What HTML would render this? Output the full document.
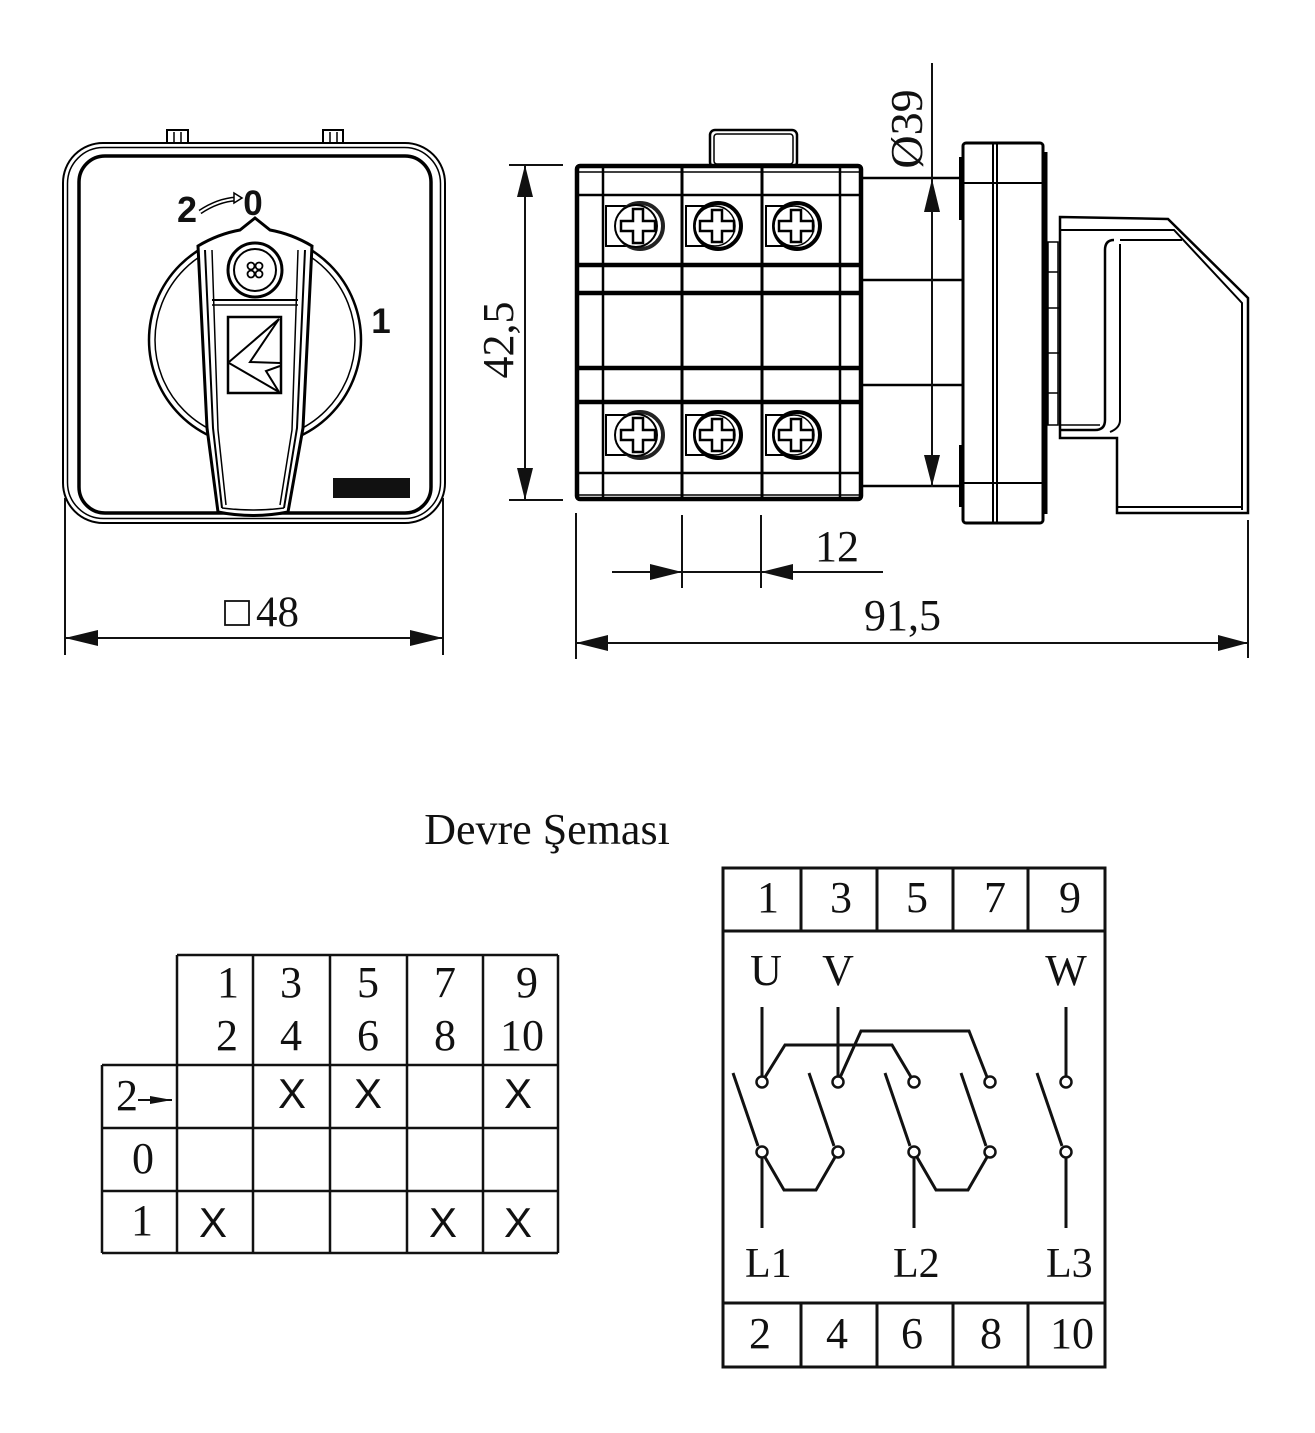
<!DOCTYPE html>
<html>
<head>
<meta charset="utf-8">
<style>
html,body{margin:0;padding:0;background:#fff;}
svg{display:block;}
text{font-family:"Liberation Serif",serif;fill:#111;}
.sans{font-family:"Liberation Sans",sans-serif;}
</style>
</head>
<body>
<svg width="1315" height="1433" viewBox="0 0 1315 1433" xmlns="http://www.w3.org/2000/svg">
<rect width="1315" height="1433" fill="#fff"/>

<!-- ================= FRONT VIEW ================= -->
<g fill="none" stroke="#000">
  <rect x="167" y="130" width="21" height="14" stroke-width="2" fill="#fff"/>
  <line x1="174" y1="132" x2="174" y2="143" stroke-width="1.5"/>
  <line x1="181" y1="132" x2="181" y2="143" stroke-width="1.5"/>
  <rect x="323" y="130" width="20" height="14" stroke-width="2" fill="#fff"/>
  <line x1="330" y1="132" x2="330" y2="143" stroke-width="1.5"/>
  <line x1="337" y1="132" x2="337" y2="143" stroke-width="1.5"/>
  <rect x="63" y="143" width="382" height="380" rx="40" stroke-width="2" fill="#fff"/>
  <rect x="67.5" y="147.5" width="373" height="371" rx="36" stroke-width="1.5"/>
  <rect x="79" y="156" width="352" height="357" rx="26" stroke-width="3.5"/>
  <circle cx="255" cy="340" r="106" stroke-width="2.5"/>
  <circle cx="255" cy="340" r="100" stroke-width="1.5"/>
  <path d="M218,512 L207,428 L198,246 Q218,234 240,230 L255,218 L270,230 Q292,234 312,246 L303,428 L288,512 Q253,519 218,512 Z" fill="#fff" stroke-width="3"/>
  <path d="M205,250 L213,428 L222,508" stroke-width="2"/>
  <path d="M212,250 L218,430 L226,505" stroke-width="1.5"/>
  <path d="M305,250 L297,428 L284,508" stroke-width="2"/>
  <path d="M298,250 L292,430 L280,505" stroke-width="1.5"/>
  <path d="M222,508 Q253,512 284,508" stroke-width="1.5"/>
  <circle cx="255" cy="270" r="27" stroke-width="3" fill="#fff"/>
  <circle cx="255" cy="270" r="21" stroke-width="2"/>
  <circle cx="251" cy="266" r="3.5" stroke-width="1.8"/>
  <circle cx="259" cy="266" r="3.5" stroke-width="1.8"/>
  <circle cx="251" cy="274" r="3.5" stroke-width="1.8"/>
  <circle cx="259" cy="274" r="3.5" stroke-width="1.8"/>
  <line x1="212" y1="300" x2="298" y2="300" stroke-width="2"/>
  <line x1="212" y1="305" x2="298" y2="305" stroke-width="1.5"/>
  <rect x="228" y="317" width="53" height="76" stroke-width="2.5"/>
  <path d="M229,362 L279,319 L250,362 L280,363" stroke-width="2"/>
  <path d="M229,363 L279,392 L266,371 L280,366" stroke-width="2"/>
</g>
<rect x="333" y="478" width="77" height="20" fill="#111"/>
<text class="sans" x="187" y="222" font-size="36" font-weight="bold" text-anchor="middle">2</text>
<text class="sans" x="253" y="215" font-size="35" font-weight="bold" text-anchor="middle">0</text>
<text class="sans" x="381" y="333" font-size="35" font-weight="bold" text-anchor="middle">1</text>
<path d="M200,212 Q218,200 236,199" fill="none" stroke="#000" stroke-width="5"/>
<path d="M200,212 Q218,200 236,199" fill="none" stroke="#fff" stroke-width="2"/>
<polygon points="234,193 242,198 234,203" fill="#fff" stroke="#000" stroke-width="1.5"/>

<g stroke="#111" fill="none" stroke-width="2">
  <line x1="65" y1="498" x2="65" y2="655"/>
  <line x1="443" y1="498" x2="443" y2="655"/>
  <line x1="65" y1="638" x2="443" y2="638"/>
</g>
<polygon points="65,638 98,630 98,646" fill="#111"/>
<polygon points="443,638 410,630 410,646" fill="#111"/>
<rect x="225" y="601" width="24" height="24" fill="none" stroke="#111" stroke-width="1.8"/>
<text x="256" y="626" font-size="43">48</text>

<!-- ================= SIDE VIEW ================= -->
<g fill="none" stroke="#000">
  <rect x="710" y="130" width="87" height="37" rx="5" stroke-width="2.5" fill="#fff"/>
  <rect x="714" y="134" width="79" height="30" rx="3" stroke-width="1.5"/>
  <rect x="577" y="166" width="284" height="333" rx="3" stroke-width="4.5" fill="#fff"/>
  <line x1="577" y1="172" x2="861" y2="172" stroke-width="1.5"/>
  <line x1="577" y1="195" x2="861" y2="195" stroke-width="2.5"/>
  <line x1="577" y1="265" x2="861" y2="265" stroke-width="4.5"/>
  <line x1="577" y1="293" x2="861" y2="293" stroke-width="4.5"/>
  <line x1="577" y1="368" x2="861" y2="368" stroke-width="4.5"/>
  <line x1="577" y1="402" x2="861" y2="402" stroke-width="4.5"/>
  <line x1="577" y1="473" x2="861" y2="473" stroke-width="2.5"/>
  <line x1="577" y1="495" x2="861" y2="495" stroke-width="1.5"/>
  <line x1="603" y1="166" x2="603" y2="499" stroke-width="2.5"/>
  <line x1="682" y1="166" x2="682" y2="499" stroke-width="3"/>
  <line x1="762" y1="166" x2="762" y2="499" stroke-width="3"/>
  <line x1="840" y1="166" x2="840" y2="499" stroke-width="2.5"/>
</g>
<g fill="#fff" stroke="#000">
  <rect x="606" y="206" width="32" height="40" stroke-width="2"/>
  <circle cx="640" cy="226" r="23" stroke-width="4" stroke="#222"/>
  <circle cx="636" cy="226" r="21" stroke-width="2"/>
  <path d="M633,209 h10 v12 h12 v10 h-12 v12 h-10 v-12 h-12 v-10 h12 z" stroke-width="2.5"/>
  <rect x="686" y="206" width="31" height="40" stroke-width="2"/>
  <circle cx="718" cy="226" r="23" stroke-width="4"/>
  <circle cx="715" cy="226" r="20" stroke-width="1.5"/>
  <path d="M712,210 h10 v11 h12 v10 h-12 v11 h-10 v-11 h-12 v-10 h12 z" stroke-width="2.5"/>
  <rect x="766" y="206" width="31" height="40" stroke-width="2"/>
  <circle cx="797" cy="226" r="23" stroke-width="4"/>
  <circle cx="794" cy="226" r="20" stroke-width="1.5"/>
  <path d="M791,210 h10 v11 h12 v10 h-12 v11 h-10 v-11 h-12 v-10 h12 z" stroke-width="2.5"/>
  <rect x="606" y="415" width="32" height="40" stroke-width="2"/>
  <circle cx="640" cy="435" r="23" stroke-width="4" stroke="#222"/>
  <circle cx="636" cy="435" r="21" stroke-width="2"/>
  <path d="M633,418 h10 v12 h12 v10 h-12 v12 h-10 v-12 h-12 v-10 h12 z" stroke-width="2.5"/>
  <rect x="686" y="415" width="31" height="40" stroke-width="2"/>
  <circle cx="718" cy="435" r="23" stroke-width="4"/>
  <circle cx="715" cy="435" r="20" stroke-width="1.5"/>
  <path d="M712,419 h10 v11 h12 v10 h-12 v11 h-10 v-11 h-12 v-10 h12 z" stroke-width="2.5"/>
  <rect x="766" y="415" width="31" height="40" stroke-width="2"/>
  <circle cx="797" cy="435" r="23" stroke-width="4"/>
  <circle cx="794" cy="435" r="20" stroke-width="1.5"/>
  <path d="M791,419 h10 v11 h12 v10 h-12 v11 h-10 v-11 h-12 v-10 h12 z" stroke-width="2.5"/>
</g>

<g stroke="#000" stroke-width="2.5" fill="none">
  <line x1="862" y1="178" x2="962" y2="178"/>
  <line x1="862" y1="280" x2="962" y2="280"/>
  <line x1="862" y1="385" x2="962" y2="385"/>
  <line x1="862" y1="486" x2="962" y2="486"/>
</g>

<g fill="none" stroke="#000">
  <rect x="963" y="143" width="80" height="380" rx="3" stroke-width="3" fill="#fff"/>
  <line x1="993" y1="143" x2="993" y2="523" stroke-width="2"/>
  <line x1="997" y1="143" x2="997" y2="523" stroke-width="2"/>
  <line x1="963" y1="183" x2="1043" y2="183" stroke-width="2"/>
  <line x1="963" y1="483" x2="1043" y2="483" stroke-width="2"/>
  <line x1="961" y1="157" x2="961" y2="220" stroke-width="4"/>
  <line x1="961" y1="445" x2="961" y2="507" stroke-width="4"/>
  <line x1="1046" y1="152" x2="1046" y2="514" stroke-width="3"/>
  <rect x="1048" y="242" width="10" height="183" stroke-width="1.5"/>
  <line x1="1048" y1="272" x2="1058" y2="272" stroke-width="1.5"/>
  <line x1="1048" y1="308" x2="1062" y2="308" stroke-width="1.5"/>
  <line x1="1048" y1="353" x2="1062" y2="353" stroke-width="1.5"/>
  <line x1="1048" y1="393" x2="1058" y2="393" stroke-width="1.5"/>
  <path d="M1060,217 L1168,219 L1248,298 L1248,513 L1117,513 L1117,438 L1060,438 Z" stroke-width="2.5" fill="#fff"/>
  <path d="M1060,230 L1174,230 L1242,303 L1242,510" stroke-width="2"/>
  <path d="M1182,240 L1120,240" stroke-width="2"/>
  <path d="M1114,240 Q1105,240 1105,250 L1105,420 Q1105,430 1095,430 L1060,430" stroke-width="2.5"/>
  <path d="M1120,244 L1120,420 Q1120,428 1110,432" stroke-width="2"/>
  <path d="M1060,425 L1100,425" stroke-width="1.5"/>
  <path d="M1117,507 L1242,507" stroke-width="2"/>
</g>

<g stroke="#111" stroke-width="2" fill="none">
  <line x1="509" y1="165" x2="563" y2="165"/>
  <line x1="509" y1="500" x2="563" y2="500"/>
  <line x1="525" y1="165" x2="525" y2="500"/>
</g>
<polygon points="525,165 517,197 533,197" fill="#111"/>
<polygon points="525,500 517,468 533,468" fill="#111"/>
<text transform="translate(513,340) rotate(-90)" font-size="44" text-anchor="middle">42,5</text>

<line x1="932" y1="63" x2="932" y2="487" stroke="#111" stroke-width="2"/>
<polygon points="932,179 924,212 940,212" fill="#111"/>
<polygon points="932,486 924,455 940,455" fill="#111"/>
<text transform="translate(922,129) rotate(-90)" font-size="46" text-anchor="middle">Ø39</text>

<g stroke="#111" stroke-width="2" fill="none">
  <line x1="576" y1="513" x2="576" y2="659"/>
  <line x1="682" y1="515" x2="682" y2="588"/>
  <line x1="761" y1="515" x2="761" y2="588"/>
  <line x1="612" y1="572" x2="883" y2="572"/>
  <line x1="1248" y1="520" x2="1248" y2="658"/>
  <line x1="576" y1="643" x2="1248" y2="643"/>
</g>
<polygon points="682,572 650,564 650,580" fill="#111"/>
<polygon points="761,572 793,564 793,580" fill="#111"/>
<polygon points="576,643 608,635 608,651" fill="#111"/>
<polygon points="1248,643 1218,635 1218,651" fill="#111"/>
<text x="815" y="561" font-size="44">12</text>
<text x="864" y="630" font-size="44">91,5</text>

<text x="547" y="844" font-size="44" text-anchor="middle">Devre Şeması</text>

<!-- ================= TABLE ================= -->
<g stroke="#111" stroke-width="2.5" fill="none">
  <line x1="177" y1="955" x2="558" y2="955"/>
  <line x1="102" y1="1065" x2="558" y2="1065"/>
  <line x1="102" y1="1128" x2="558" y2="1128"/>
  <line x1="102" y1="1191" x2="558" y2="1191"/>
  <line x1="102" y1="1253" x2="558" y2="1253"/>
  <line x1="102" y1="1065" x2="102" y2="1253"/>
  <line x1="177" y1="955" x2="177" y2="1253"/>
  <line x1="253" y1="955" x2="253" y2="1253"/>
  <line x1="330" y1="955" x2="330" y2="1253"/>
  <line x1="407" y1="955" x2="407" y2="1253"/>
  <line x1="483" y1="955" x2="483" y2="1253"/>
  <line x1="558" y1="955" x2="558" y2="1253"/>
</g>
<g font-size="44" text-anchor="middle">
  <text x="228" y="997">1</text>
  <text x="227" y="1050">2</text>
  <text x="291" y="997">3</text>
  <text x="291" y="1050">4</text>
  <text x="368" y="997">5</text>
  <text x="368" y="1050">6</text>
  <text x="445" y="997">7</text>
  <text x="445" y="1050">8</text>
  <text x="527" y="997">9</text>
  <text x="522" y="1050">10</text>
  <text x="127" y="1110">2</text>
  <text x="143" y="1173">0</text>
  <text x="142" y="1235">1</text>
</g>
<line x1="138" y1="1100" x2="172" y2="1100" stroke="#111" stroke-width="2"/>
<polygon points="150,1096 172,1100 150,1104" fill="#111"/>
<g font-size="42" text-anchor="middle">
  <text class="sans" x="292" y="1108">X</text>
  <text class="sans" x="368" y="1108">X</text>
  <text class="sans" x="518" y="1108">X</text>
  <text class="sans" x="213" y="1237">X</text>
  <text class="sans" x="443" y="1237">X</text>
  <text class="sans" x="518" y="1237">X</text>
</g>

<!-- ================= CIRCUIT ================= -->
<g stroke="#111" stroke-width="3" fill="none">
  <rect x="723" y="868" width="382" height="499"/>
  <line x1="723" y1="931" x2="1105" y2="931"/>
  <line x1="723" y1="1303" x2="1105" y2="1303"/>
  <line x1="801" y1="868" x2="801" y2="931"/>
  <line x1="877" y1="868" x2="877" y2="931"/>
  <line x1="953" y1="868" x2="953" y2="931"/>
  <line x1="1028" y1="868" x2="1028" y2="931"/>
  <line x1="801" y1="1303" x2="801" y2="1367"/>
  <line x1="877" y1="1303" x2="877" y2="1367"/>
  <line x1="953" y1="1303" x2="953" y2="1367"/>
  <line x1="1028" y1="1303" x2="1028" y2="1367"/>
</g>
<g font-size="44" text-anchor="middle">
  <text x="768" y="912">1</text>
  <text x="841" y="912">3</text>
  <text x="917" y="912">5</text>
  <text x="995" y="912">7</text>
  <text x="1070" y="912">9</text>
  <text x="760" y="1348">2</text>
  <text x="837" y="1348">4</text>
  <text x="912" y="1348">6</text>
  <text x="991" y="1348">8</text>
  <text x="1072" y="1348">10</text>
  <text x="766" y="985">U</text>
  <text x="838" y="985">V</text>
  <text x="1066" y="985">W</text>
</g>
<g font-size="42">
  <text x="745" y="1277">L1</text>
  <text x="893" y="1277">L2</text>
  <text x="1046" y="1277">L3</text>
</g>
<g stroke="#111" stroke-width="3" fill="none">
  <line x1="762" y1="1007" x2="762" y2="1077"/>
  <line x1="838" y1="1007" x2="838" y2="1077"/>
  <line x1="1066" y1="1007" x2="1066" y2="1077"/>
  <path d="M762,1082 L785,1045 L892,1045 L911,1077"/>
  <path d="M838,1082 L861,1031 L969,1031 L987,1077"/>
  <line x1="733" y1="1073" x2="758" y2="1146"/>
  <line x1="809" y1="1073" x2="834" y2="1146"/>
  <line x1="885" y1="1073" x2="910" y2="1146"/>
  <line x1="961" y1="1073" x2="986" y2="1146"/>
  <line x1="1037" y1="1073" x2="1062" y2="1146"/>
  <path d="M762,1152 L784,1190 L816,1190 L838,1152"/>
  <path d="M914,1152 L936,1190 L968,1190 L990,1152"/>
  <line x1="762" y1="1157" x2="762" y2="1228"/>
  <line x1="914" y1="1157" x2="914" y2="1228"/>
  <line x1="1066" y1="1157" x2="1066" y2="1228"/>
</g>
<g stroke="#111" stroke-width="2.5" fill="#fff">
  <circle cx="762" cy="1082" r="5.5"/>
  <circle cx="838" cy="1082" r="5.5"/>
  <circle cx="914" cy="1082" r="5.5"/>
  <circle cx="990" cy="1082" r="5.5"/>
  <circle cx="1066" cy="1082" r="5.5"/>
  <circle cx="762" cy="1152" r="5.5"/>
  <circle cx="838" cy="1152" r="5.5"/>
  <circle cx="914" cy="1152" r="5.5"/>
  <circle cx="990" cy="1152" r="5.5"/>
  <circle cx="1066" cy="1152" r="5.5"/>
</g>
</svg>
</body>
</html>
